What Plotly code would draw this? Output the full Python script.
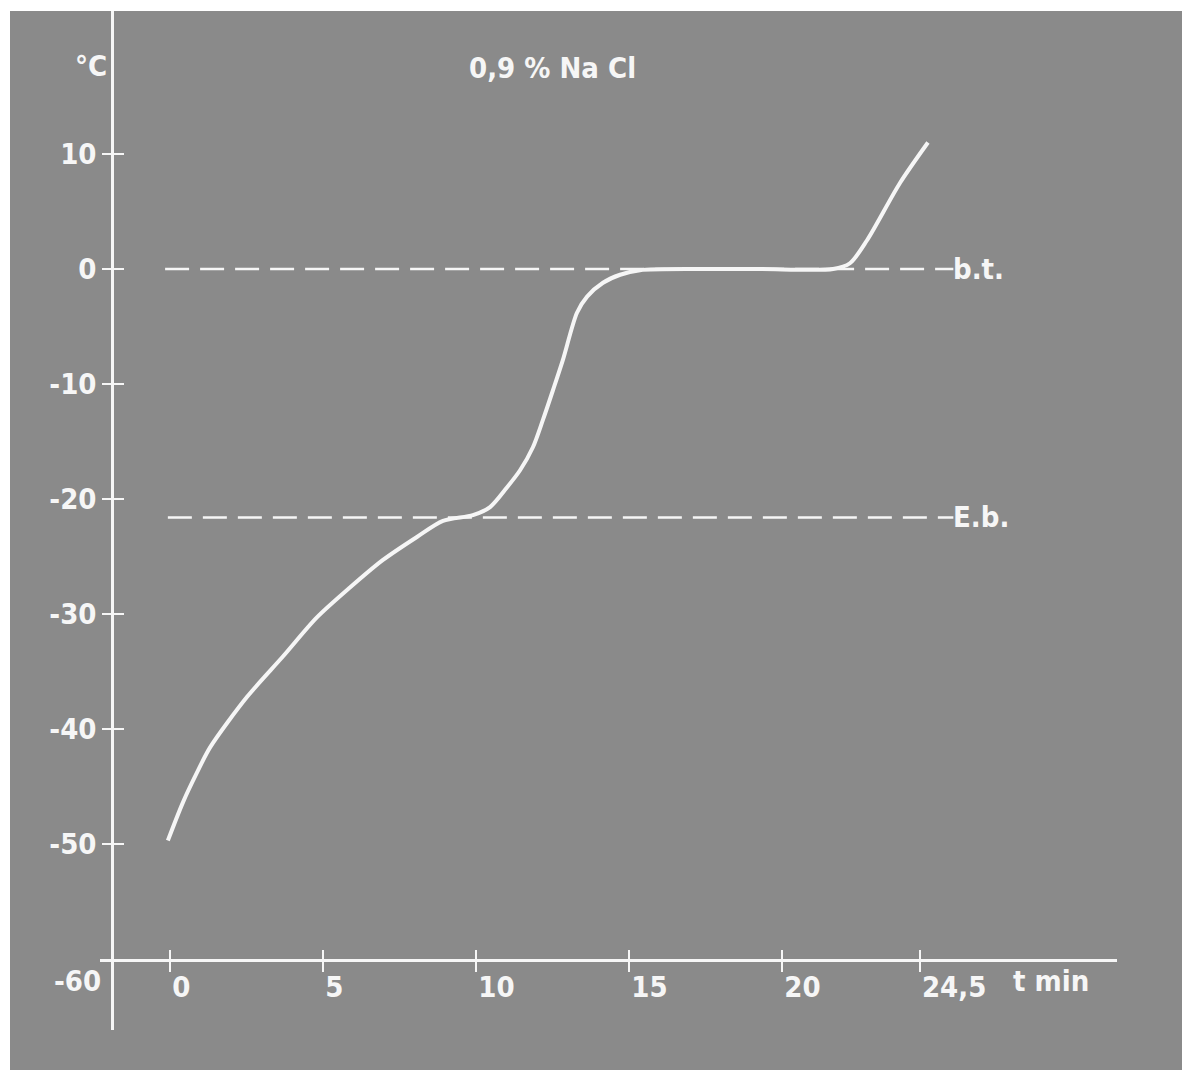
import plotly.graph_objects as go

# ---------------- data ----------------
time_min = [-0.07, 0.42, 0.88, 1.31, 2.52, 3.69, 4.80, 5.88, 6.96, 8.07, 8.92, 9.90,
            10.46, 11.01, 11.44, 11.86, 12.19, 12.52, 12.84, 13.30, 13.63,
            14.15, 14.71, 15.36, 17.3, 19.3, 21.67, 22.22, 22.78, 23.86, 24.77]
temp_c = [-49.7, -46.4, -43.8, -41.6, -37.2, -33.7, -30.3, -27.7, -25.3, -23.3, -21.9,
          -21.4, -20.7, -19.0, -17.5, -15.5, -13.1, -10.5, -7.9, -3.8, -2.4,
          -1.2, -0.5, -0.1, 0.0, 0.0, 0.0, 0.5, 2.5, 7.5, 11.0]

bt_x = [-0.16, 25.6]      # b.t. reference line (0 °C)
bt_y = [0.0, 0.0]
eb_x = [-0.07, 25.6]      # E.b. reference line
eb_y = [-21.6, -21.6]

x_tickvals = [0, 5, 10, 15, 20, 24.5]
x_ticktext = ["0", "5", "10", "15", "20", "24,5"]
y_tickvals = [-50, -40, -30, -20, -10, 0, 10]
y_ticktext = ["-50", "-40", "-30", "-20", "-10", "0", "10"]

title_text = "0,9 % Na Cl"
y_unit = "°C"
x_unit = "t min"
bt_label = "b.t."
eb_label = "E.b."
corner_label = "-60"

# ---------------- style ----------------
BG = "#8a8a8a"
FG = "#f6f6f6"
FONT = "DejaVu Sans Condensed, Liberation Sans Narrow, Arial Narrow, sans-serif"
tfont = dict(family=FONT, size=29, color=FG, weight="bold")

x_range = [-2.2876, 30.948]
y_range = [-66.174, 22.435]
x_dom = [0.07679, 0.94454]
y_dom = [0.03777, 1.0]
x_pos = 0.103872
y_pos = 0.087031

fig = go.Figure()

fig.add_trace(go.Scatter(x=bt_x, y=bt_y, mode="lines",
                         line=dict(color=FG, width=2.5, dash="24px,11px"),
                         hoverinfo="skip", showlegend=False))
fig.add_trace(go.Scatter(x=eb_x, y=eb_y, mode="lines",
                         line=dict(color=FG, width=2.5, dash="24px,11px"),
                         hoverinfo="skip", showlegend=False))
fig.add_trace(go.Scatter(x=time_min, y=temp_c, mode="lines",
                         line=dict(color=FG, width=4, shape="spline", smoothing=0.8),
                         hoverinfo="skip", showlegend=False))
# helper trace for the overlay axes (inner half of crossing ticks)
fig.add_trace(go.Scatter(x=[], y=[], xaxis="x2", yaxis="y2", mode="lines",
                         hoverinfo="skip", showlegend=False))

fig.update_layout(
    width=1182, height=1070,
    margin=dict(l=10, r=0, t=11, b=0, pad=0),
    paper_bgcolor="white",
    plot_bgcolor="rgba(0,0,0,0)",
    hovermode=False,
    showlegend=False,
    xaxis=dict(domain=x_dom, range=x_range, anchor="free", position=x_pos,
               showline=True, linecolor=FG, linewidth=2.5,
               tickmode="array", tickvals=x_tickvals, ticktext=x_ticktext,
               ticks="outside", ticklen=10, tickwidth=2, tickcolor=FG,
               ticklabelposition="outside right", tickfont=tfont,
               showgrid=False, zeroline=False),
    yaxis=dict(domain=y_dom, range=y_range, anchor="free", position=y_pos,
               showline=True, linecolor=FG, linewidth=2.5,
               tickmode="array", tickvals=y_tickvals, ticktext=y_ticktext,
               ticks="outside", ticklen=9, tickwidth=2, tickcolor=FG,
               tickfont=tfont, showgrid=False, zeroline=False),
    xaxis2=dict(domain=x_dom, range=x_range, anchor="free", position=x_pos,
                overlaying="x", showline=False,
                tickmode="array", tickvals=x_tickvals,
                ticks="inside", ticklen=10, tickwidth=2, tickcolor=FG,
                showticklabels=False, showgrid=False, zeroline=False),
    yaxis2=dict(domain=y_dom, range=y_range, anchor="free", position=y_pos,
                overlaying="y", showline=False,
                tickmode="array", tickvals=y_tickvals,
                ticks="inside", ticklen=11, tickwidth=2, tickcolor=FG,
                showticklabels=False, showgrid=False, zeroline=False),
    shapes=[dict(type="rect", xref="paper", yref="paper", x0=0, x1=1, y0=0, y1=1,
                 fillcolor=BG, line=dict(width=0), layer="below")],
)

ann_font = dict(family=FONT, size=29, color=FG, weight="bold")
fig.add_annotation(text=title_text, xref="paper", yref="paper", x=0.4625, y=0.9462,
                   xanchor="center", yanchor="middle", showarrow=False,
                   font=dict(family=FONT, size=29, color=FG, weight="bold"))
fig.add_annotation(text=y_unit, xref="paper", yref="paper", x=0.0845, y=0.9481,
                   xanchor="right", yanchor="middle", showarrow=False, font=ann_font)
fig.add_annotation(text=bt_label, x=bt_x[1], y=bt_y[1], xanchor="left", yanchor="middle",
                   showarrow=False, font=ann_font, xshift=-2)
fig.add_annotation(text=eb_label, x=eb_x[1], y=eb_y[1], xanchor="left", yanchor="middle",
                   showarrow=False, font=ann_font, xshift=-2)
fig.add_annotation(text=x_unit, x=27.5, y=-61.9, xanchor="left", yanchor="middle",
                   showarrow=False, font=ann_font)
fig.add_annotation(text=corner_label, xref="paper", x=0.0794, y=-61.9,
                   xanchor="right", yanchor="middle", showarrow=False, font=ann_font)

fig.write_html("out.html")
